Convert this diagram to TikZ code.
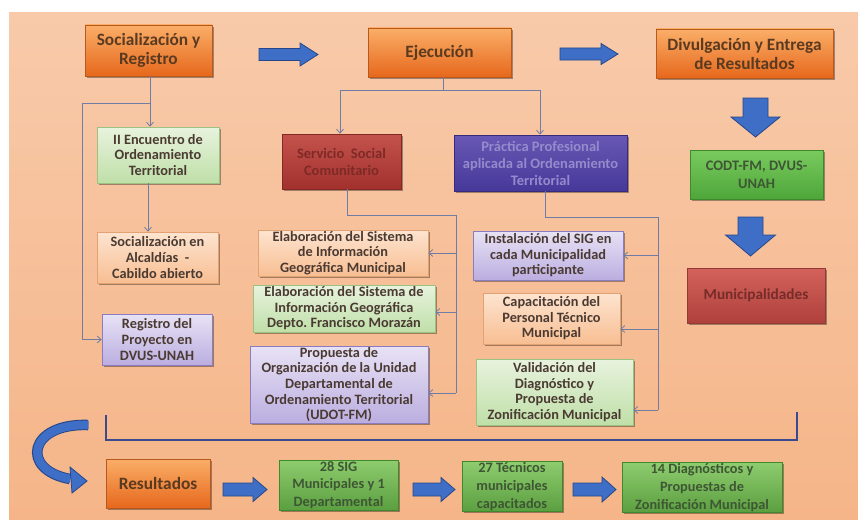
\documentclass[tikz,border=0pt]{standalone}
\usepackage{fontspec}
\setmainfont{Carlito}
\frenchspacing
\usetikzlibrary{shadows,arrows.meta,calc}
\definecolor{bgtop}{HTML}{F8CAAA}
\definecolor{bgbot}{HTML}{F5B588}
\definecolor{orT}{HTML}{FAAE68}
\definecolor{orB}{HTML}{E6681C}
\definecolor{orD}{HTML}{B8581C}
\definecolor{orTx}{HTML}{5A3A20}
\definecolor{lgT}{HTML}{E8F3DE}
\definecolor{lgB}{HTML}{BFDFA8}
\definecolor{lgD}{HTML}{9CC282}
\definecolor{loT}{HTML}{FDE4D0}
\definecolor{loB}{HTML}{F8BE92}
\definecolor{loD}{HTML}{E3A272}
\definecolor{lpT}{HTML}{E8E2F5}
\definecolor{lpB}{HTML}{BBAEE0}
\definecolor{lpD}{HTML}{8A7CBE}
\definecolor{ltx}{HTML}{4A3A32}
\definecolor{rdT}{HTML}{C4524C}
\definecolor{rdB}{HTML}{A2312E}
\definecolor{rdD}{HTML}{842824}
\definecolor{rdTx}{HTML}{7E2A26}
\definecolor{puT}{HTML}{6958B4}
\definecolor{puB}{HTML}{46389A}
\definecolor{puD}{HTML}{352A7C}
\definecolor{puTx}{HTML}{958BCC}
\definecolor{gnT}{HTML}{7ACB5E}
\definecolor{gnB}{HTML}{4EA63A}
\definecolor{gnD}{HTML}{3C8A2C}
\definecolor{gnTx}{HTML}{3E5634}
\definecolor{mnT}{HTML}{D2625A}
\definecolor{mnB}{HTML}{B0403C}
\definecolor{mnD}{HTML}{923A36}
\definecolor{mnTx}{HTML}{762C2A}
\definecolor{bgT}{HTML}{8ECC6E}
\definecolor{bgB}{HTML}{5B9F40}
\definecolor{conn}{HTML}{6F7DA6}
\definecolor{arrF}{HTML}{3E6EC6}
\definecolor{arrD}{HTML}{27478A}
\definecolor{brk}{HTML}{3A4A8E}
\tikzset{
  base/.style={rectangle, align=center, inner sep=1pt, line width=0.6pt,
    font=\bfseries\fontsize{14.3}{15.6}\selectfont,
    drop shadow={shadow xshift=1.6pt, shadow yshift=-1.8pt, opacity=.35, fill=black}},
  topbox/.style={base, draw=orD, top color=orT, bottom color=orB, text=orTx,
    font=\bfseries\fontsize{17.3}{19}\selectfont},
  lgbox/.style={base, draw=lgD, top color=lgT, bottom color=lgB, text=ltx},
  lobox/.style={base, draw=loD, top color=loT, bottom color=loB, text=ltx},
  lpbox/.style={base, draw=lpD, top color=lpT, bottom color=lpB, text=ltx},
  redbox/.style={base, draw=rdD, top color=rdT, bottom color=rdB, text=rdTx,
    font=\bfseries\fontsize{14.5}{17}\selectfont},
  purbox/.style={base, draw=puD, top color=puT, bottom color=puB, text=puTx,
    font=\bfseries\fontsize{14.5}{17}\selectfont},
  grnbox/.style={base, draw=gnD, top color=gnT, bottom color=gnB, text=gnTx,
    font=\bfseries\fontsize{14.5}{18}\selectfont},
  munbox/.style={base, draw=mnD, top color=mnT, bottom color=mnB, text=mnTx,
    font=\bfseries\fontsize{15.3}{18}\selectfont},
  botbox/.style={base, draw=gnD, top color=bgT, bottom color=bgB, text=gnTx,
    font=\bfseries\fontsize{14.3}{17.8}\selectfont},
  link/.style={draw=conn, line width=0.8pt},
  linkarr/.style={link, -{Straight Barb[length=4pt,width=7pt]}},
  bigarr/.style={fill=arrF, draw=arrD, line width=0.8pt, line join=miter},
}
\newcommand\rarrow[6]{\filldraw[bigarr] (#1,#3-#4) -- (#2-#6,#3-#4) -- (#2-#6,#3-#5) -- (#2,#3) -- (#2-#6,#3+#5) -- (#2-#6,#3+#4) -- (#1,#3+#4) -- cycle;}
\newcommand\darrow[6]{\filldraw[bigarr] (#3-#4,#1) -- (#3-#4,#2-#6) -- (#3-#5,#2-#6) -- (#3,#2) -- (#3+#5,#2-#6) -- (#3+#4,#2-#6) -- (#3+#4,#1) -- cycle;}
\begin{document}
\begin{tikzpicture}[x=1pt,y=-1pt]
\useasboundingbox (0,0) rectangle (858,519);
\fill[white] (0,0) rectangle (858,519);
\shade[top color=bgtop, bottom color=bgbot] (9,13) rectangle (858,519);

% top row
\node[topbox, minimum width=127, minimum height=51] (soc) at (148.5,50.5) {Socialización y\\Registro};
\node[topbox, minimum width=143, minimum height=49] (eje) at (439.5,52.5) {Ejecución};
\node[topbox, minimum width=177, minimum height=49] (div) at (744.5,53.5) {Divulgación y Entrega\\de Resultados};

% left column
\node[lgbox, minimum width=122, minimum height=56] (enc) at (158,155) {II Encuentro de\\Ordenamiento\\Territorial};
\node[lobox, minimum width=121, minimum height=51] (alc) at (157.5,257.5) {Socialización en\\Alcaldías~ -\\Cabildo abierto};
\node[lpbox, minimum width=110, minimum height=51] (reg) at (157,339.5) {Registro del\\Proyecto en\\DVUS-UNAH};

% middle
\node[redbox, minimum width=119, minimum height=55] (ser) at (341.5,161.5) {Servicio~ Social\\Comunitario};
\node[purbox, minimum width=173, minimum height=56] (pra) at (540.5,163) {Práctica Profesional\\aplicada al Ordenamiento\\Territorial};
\node[lobox, minimum width=170, minimum height=44] (sigm) at (343,253) {Elaboración del Sistema\\de Información\\Geográfica Municipal};
\node[lgbox, minimum width=182, minimum height=47] (sigd) at (344,308.5) {Elaboración del Sistema de\\Información Geográfica\\Depto. Francisco Morazán};
\node[lpbox, minimum width=178, minimum height=75] (prop) at (339,384.5) {Propuesta de\\Organización de la Unidad\\Departamental de\\Ordenamiento Territorial\\(UDOT-FM)};
\node[lpbox, minimum width=150, minimum height=49] (ins) at (548,255.5) {Instalación del SIG en\\cada Municipalidad\\participante};
\node[lobox, minimum width=137, minimum height=51] (cap) at (551.5,318.5) {Capacitación del\\Personal Técnico\\Municipal};
\node[lgbox, minimum width=157, minimum height=66] (val) at (554.5,392) {Validación del\\Diagnóstico y\\Propuesta de\\Zonificación Municipal};

% right column
\node[grnbox, minimum width=133, minimum height=49] (codt) at (756.5,174.5) {CODT-FM, DVUS-\\UNAH};
\node[munbox, minimum width=138, minimum height=55] (mun) at (756,295.5) {Municipalidades};

% bottom row
\node[topbox, minimum width=104, minimum height=49] (res) at (158,483.5) {Resultados};
\node[botbox, minimum width=119, minimum height=48] (sig28) at (338.5,485) {28 SIG\\Municipales y 1\\Departamental};
\node[botbox, minimum width=100, minimum height=49] (tec) at (512,486.5) {27 Técnicos\\municipales\\capacitados};
\node[botbox, minimum width=160, minimum height=49] (diag) at (702,487.5) {14 Diagnósticos y\\Propuestas de\\Zonificación Municipal};

% helper coordinates
\coordinate (sx) at (150,0);
\coordinate (sy) at (0,103);
\coordinate (lx) at (82,0);
\coordinate (ex) at (148,0);
\coordinate (ejx) at (443,0);
\coordinate (ey) at (0,90);
\coordinate (serx) at (340,0);
\coordinate (prx) at (540,0);
\coordinate (s1x) at (347,0);
\coordinate (s1y) at (0,215);
\coordinate (tx) at (456,0);
\coordinate (y312) at (0,312);
\coordinate (y393) at (0,393);
\coordinate (p1x) at (545,0);
\coordinate (p1y) at (0,217);
\coordinate (ux) at (658,0);
\coordinate (y329) at (0,329);
\coordinate (y410) at (0,410);

% connectors left
\draw[linkarr] (soc.south -| sx) -- (enc.north -| sx);
\draw[linkarr] (sx |- sy) -- (lx |- sy) -- (lx |- reg.west) -- (reg.west);
\draw[linkarr] (enc.south -| ex) -- (alc.north -| ex);

% connectors from Ejecución
\draw[link] (eje.south -| ejx) -- (ejx |- ey);
\draw[linkarr] (ejx |- ey) -| (ser.north -| serx);
\draw[linkarr] (ejx |- ey) -| (pra.north -| prx);

% Servicio Social trunk
\draw[link] (ser.south -| s1x) |- (tx |- s1y) -- (tx |- y393);
\draw[linkarr] (tx |- sigm.east) -- (sigm.east);
\draw[linkarr] (tx |- y312) -- (sigd.east |- y312);
\draw[linkarr] (tx |- y393) -- (prop.east |- y393);

% Práctica trunk
\draw[link] (pra.south -| p1x) |- (ux |- p1y) -- (ux |- y410);
\draw[linkarr] (ux |- ins.east) -- (ins.east);
\draw[linkarr] (ux |- y329) -- (cap.east |- y329);
\draw[linkarr] (ux |- y410) -- (val.east |- y410);

% bracket
\draw[brk, line width=1.7pt] (106,415) -- (106,440) -- (797,440) -- (797,412);

% big block arrows
\rarrow{259}{318}{54.5}{6}{11.5}{18}
\rarrow{560}{618}{54}{6}{10.5}{17}
\darrow{98}{137}{755.5}{12.5}{24.5}{20}
\darrow{217}{256}{750.5}{12.5}{25}{21}
\rarrow{223}{267}{489.5}{6.5}{12}{14}
\rarrow{413}{455}{489.5}{6.5}{12}{14}
\rarrow{573}{616}{489.5}{6.5}{12.5}{14}

% curved arrow
\draw[draw=arrD, line width=10.5pt] (88,425) .. controls (28,423) and (20,470) .. (70,479);
\draw[draw=arrF, line width=8.5pt] (88.6,425) .. controls (28,423) and (20,470) .. (70.5,479);
\filldraw[bigarr] (70,467) -- (87,481) -- (72,493) -- cycle;
\end{tikzpicture}
\end{document}
